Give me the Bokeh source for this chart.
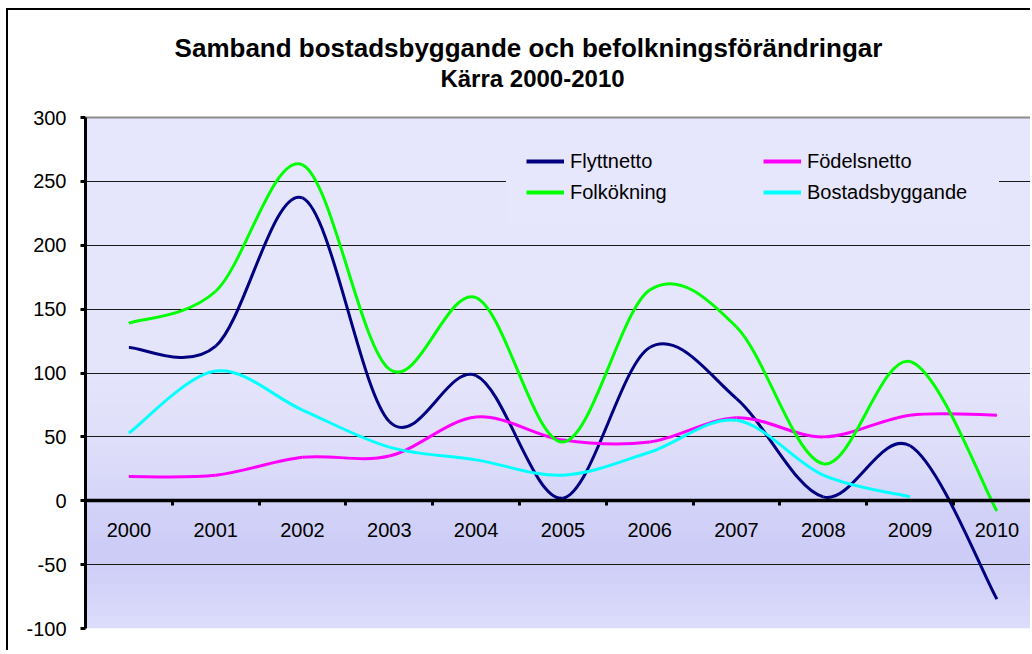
import numpy as np
from bokeh.plotting import figure
from bokeh.models import (Range1d, LinearAxis, FixedTicker, Legend, LegendItem,
                          Label, BoxAnnotation, Grid)
from bokeh.embed import file_html
from bokeh.resources import INLINE

# ---------------- data ----------------
years = [2000, 2001, 2002, 2003, 2004, 2005, 2006, 2007, 2008, 2009, 2010]
flyttnetto = [120, 121, 237, 62, 98, 2, 120, 80, 3, 43, -77]
fodelsnetto = [19, 20, 34, 35, 65.5, 47.5, 46, 65, 50, 67, 67]
folkokning = [139, 164, 263, 103, 159, 46, 165, 136, 29, 109, -8]
bostad_years = [2000, 2001, 2002, 2003, 2004, 2005, 2006, 2007, 2008, 2009]
bostadsbyggande = [53, 101.5, 71, 42, 32, 20, 38, 63, 20, 3]
y_ticks = [-100, -50, 0, 50, 100, 150, 200, 250, 300]
title_lines = ["Samband bostadsbyggande och befolkningsförändringar", "Kärra 2000-2010"]
series_names = ["Flyttnetto", "Födelsnetto", "Folkökning", "Bostadsbyggande"]
series_colors = ["#000080", "#FF00FF", "#00FF00", "#00FFFF"]

FONT = "Liberation Sans"

# layout constants (pixels within the canvas)
W, H = 1024, 642
FRAME_LEFT = 77          # frame left inside canvas
FRAME_BOTTOM_BORDER = 24
CAT_W = 86.8             # pixels per year
PX_PER_UNIT = 511 / 400  # pixels per y unit
Y_TOP_PX = 107           # distance from canvas top to the value 300

x_end = 1999.5 + (W - FRAME_LEFT) / CAT_W
y_end = y_ticks[-1] + Y_TOP_PX / PX_PER_UNIT

p = figure(width=W, height=H, output_backend="svg", toolbar_location=None,
           x_range=Range1d(1999.5, x_end), y_range=Range1d(y_ticks[0], y_end),
           x_axis_location=None, min_border_left=FRAME_LEFT, min_border_top=0,
           min_border_bottom=FRAME_BOTTOM_BORDER, min_border_right=0)
p.title.visible = False
p.styles = {"margin-left": "6px", "margin-top": "8px",
            "border-left": "2px solid black", "border-top": "2px solid black"}
p.outline_line_color = None
p.background_fill_color = "white"
p.border_fill_color = "white"

# ---------------- plot-area gradient ----------------
stops = [(300, (230, 230, 252)), (100, (228, 228, 251)), (40, (222, 222, 250)),
         (0, (212, 212, 248)), (-40, (203, 203, 247)), (-100, (220, 220, 251))]
sv = np.array([s[0] for s in stops][::-1], float)
sc = np.array([s[1] for s in stops][::-1], float)
for lo in range(y_ticks[0], y_ticks[-1], 5):
    mid = lo + 2.5
    c = [int(round(np.interp(mid, sv, sc[:, k]))) for k in range(3)]
    p.add_layout(BoxAnnotation(bottom=lo, top=min(lo + 5.6, y_ticks[-1]),
                               fill_color="#%02x%02x%02x" % tuple(c),
                               fill_alpha=1, line_color=None, level="image"))

# ---------------- grid & axes ----------------
p.xgrid.visible = False
p.ygrid.ticker = FixedTicker(ticks=[t for t in y_ticks if t not in (y_ticks[0], y_ticks[-1], 0)])
p.ygrid.grid_line_color = "#1a1a1a"
p.ygrid.grid_line_width = 1.2
p.ygrid.level = "underlay"
p.add_layout(Grid(dimension=1, ticker=FixedTicker(ticks=[y_ticks[0], y_ticks[-1]]),
                  grid_line_color="#8c8c8c", grid_line_width=2, level="underlay"))

ya = p.yaxis[0]
ya.ticker = FixedTicker(ticks=y_ticks)
ya.major_label_overrides = {t: str(t) for t in y_ticks}
ya.bounds = (y_ticks[0], y_ticks[-1])
ya.axis_line_width = 3
ya.axis_line_color = "black"
ya.major_tick_line_width = 3
ya.major_tick_out = 5
ya.major_tick_in = 0
ya.minor_tick_line_color = None
ya.major_label_standoff = 14
ya.major_label_text_font = FONT
ya.major_label_text_font_size = "20px"
ya.major_label_text_color = "black"

xa = LinearAxis(fixed_location=0,
                ticker=FixedTicker(ticks=years, minor_ticks=[y - 0.5 for y in years]))
xa.major_label_overrides = {y: str(y) for y in years}
xa.axis_line_width = 3.5
xa.axis_line_color = "black"
xa.major_tick_line_color = None
xa.major_tick_out = 0
xa.major_tick_in = 0
xa.minor_tick_line_width = 3
xa.minor_tick_line_color = "black"
xa.minor_tick_out = 5
xa.minor_tick_in = 0
xa.major_label_standoff = 17
xa.major_label_text_font = FONT
xa.major_label_text_font_size = "20px"
xa.major_label_text_color = "black"
p.add_layout(xa, "below")


# ---------------- smoothed series (Excel-like smoothing through yearly points) ----------------
def bezier_segments(xs, ys):
    x = np.asarray(xs, float)
    y = np.asarray(ys, float)
    xp = np.concatenate([[x[0]], x, [x[-1]]])
    yp = np.concatenate([[y[0]], y, [y[-1]]])
    d = dict(x0=[], y0=[], x1=[], y1=[], cx0=[], cy0=[], cx1=[], cy1=[])
    for i in range(len(x) - 1):
        d["x0"].append(x[i]); d["y0"].append(y[i])
        d["x1"].append(x[i + 1]); d["y1"].append(y[i + 1])
        d["cx0"].append(x[i] + (xp[i + 2] - xp[i]) / 6)
        d["cy0"].append(y[i] + (yp[i + 2] - yp[i]) / 6)
        d["cx1"].append(x[i + 1] - (xp[i + 3] - xp[i + 1]) / 6)
        d["cy1"].append(y[i + 1] - (yp[i + 3] - yp[i + 1]) / 6)
    return d


series = [(years, flyttnetto), (years, fodelsnetto), (years, folkokning),
          (bostad_years, bostadsbyggande)]
proxies = []
for (xs, ys), color in zip(series, series_colors):
    seg = bezier_segments(xs, ys)
    p.bezier(source=seg, x0="x0", y0="y0", x1="x1", y1="y1", cx0="cx0", cy0="cy0",
             cx1="cx1", cy1="cy1", line_color=color, line_width=3)
    # legend swatch only (a single missing point draws nothing in the plot)
    proxies.append(p.line(x=[np.nan], y=[np.nan], line_color=color, line_width=4))

# ---------------- legend (two columns) ----------------
LEG_BG = "#E6E6FC"


def make_legend(idx, loc, lw):
    lg = Legend(items=[LegendItem(label=series_names[i], renderers=[proxies[i]]) for i in idx],
                location=loc, orientation="vertical", margin=0, padding=19, spacing=7,
                glyph_width=38, glyph_height=24, label_height=24, label_width=lw,
                label_standoff=6, label_text_font=FONT, label_text_font_size="20px",
                label_text_color="black", background_fill_color=LEG_BG,
                background_fill_alpha=1, border_line_color=LEG_BG, border_line_width=1)
    p.add_layout(lg)


make_legend([0, 2], (421, 404), 155)
make_legend([1, 3], (658, 404), 172)


# ---------------- title (inside the frame, above the value 300) ----------------
def px_x(px):  # canvas pixel -> data x
    return 1999.5 + (px - FRAME_LEFT) / CAT_W


def px_y(py):  # canvas pixel (from top) -> data y
    return y_end - py / PX_PER_UNIT


p.add_layout(Label(x=px_x(520), y=px_y(37), text=title_lines[0],
                   text_align="center", text_baseline="alphabetic", text_font=FONT,
                   text_font_size="26px", text_font_style="bold", text_color="black"))
p.add_layout(Label(x=px_x(524), y=px_y(68), text=title_lines[1],
                   text_align="center", text_baseline="alphabetic", text_font=FONT,
                   text_font_size="24px", text_font_style="bold", text_color="black"))

open("out.html", "w").write(file_html(p, INLINE))
